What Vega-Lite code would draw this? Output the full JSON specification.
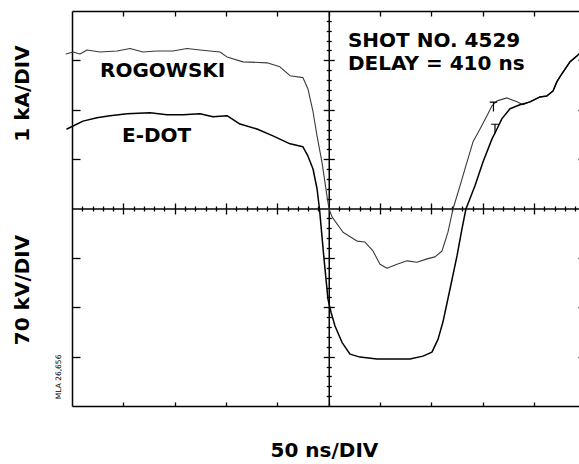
{
  "$schema": "https://vega.github.io/schema/vega-lite/v6.json",
  "width": 507,
  "height": 395,
  "autosize": {"type": "none"},
  "padding": {"left": 72, "top": 11, "right": 0, "bottom": 58},
  "background": "white",
  "data": {"values": [{}]},
  "config": {
    "view": {"stroke": null},
    "axis": {"grid": false, "labels": false, "domainColor": "black", "tickColor": "black", "domainWidth": 1.5, "tickWidth": 1.3},
    "text": {"font": "DejaVu Sans", "fontWeight": "bold", "fontSize": 20, "color": "black"}
  },
  "resolve": {"axis": {"x": "independent", "y": "independent"}},
  "datasets": {
    "traces": [
      {"trace": "ROGOWSKI", "t": -5.8, "v": 3.13},
      {"trace": "ROGOWSKI", "t": 1.0, "v": 3.17},
      {"trace": "ROGOWSKI", "t": 7.8, "v": 3.13},
      {"trace": "ROGOWSKI", "t": 14.6, "v": 3.21},
      {"trace": "ROGOWSKI", "t": 27.3, "v": 3.17},
      {"trace": "ROGOWSKI", "t": 43.8, "v": 3.19},
      {"trace": "ROGOWSKI", "t": 56.5, "v": 3.24},
      {"trace": "ROGOWSKI", "t": 69.1, "v": 3.17},
      {"trace": "ROGOWSKI", "t": 82.8, "v": 3.19},
      {"trace": "ROGOWSKI", "t": 98.3, "v": 3.19},
      {"trace": "ROGOWSKI", "t": 112.0, "v": 3.24},
      {"trace": "ROGOWSKI", "t": 124.6, "v": 3.21},
      {"trace": "ROGOWSKI", "t": 134.4, "v": 3.19},
      {"trace": "ROGOWSKI", "t": 144.1, "v": 3.17},
      {"trace": "ROGOWSKI", "t": 150.9, "v": 3.07},
      {"trace": "ROGOWSKI", "t": 166.5, "v": 2.97},
      {"trace": "ROGOWSKI", "t": 189.9, "v": 2.95},
      {"trace": "ROGOWSKI", "t": 202.5, "v": 2.87},
      {"trace": "ROGOWSKI", "t": 212.3, "v": 2.69},
      {"trace": "ROGOWSKI", "t": 224.9, "v": 2.65},
      {"trace": "ROGOWSKI", "t": 229.8, "v": 2.42},
      {"trace": "ROGOWSKI", "t": 234.7, "v": 1.96},
      {"trace": "ROGOWSKI", "t": 238.6, "v": 1.47},
      {"trace": "ROGOWSKI", "t": 243.4, "v": 0.94},
      {"trace": "ROGOWSKI", "t": 248.3, "v": 0.25},
      {"trace": "ROGOWSKI", "t": 250.3, "v": -0.01},
      {"trace": "ROGOWSKI", "t": 253.2, "v": -0.17},
      {"trace": "ROGOWSKI", "t": 263.9, "v": -0.48},
      {"trace": "ROGOWSKI", "t": 277.5, "v": -0.66},
      {"trace": "ROGOWSKI", "t": 285.3, "v": -0.68},
      {"trace": "ROGOWSKI", "t": 293.1, "v": -0.86},
      {"trace": "ROGOWSKI", "t": 299.9, "v": -1.13},
      {"trace": "ROGOWSKI", "t": 306.7, "v": -1.21},
      {"trace": "ROGOWSKI", "t": 316.5, "v": -1.13},
      {"trace": "ROGOWSKI", "t": 326.2, "v": -1.06},
      {"trace": "ROGOWSKI", "t": 335.9, "v": -1.09},
      {"trace": "ROGOWSKI", "t": 345.7, "v": -1.02},
      {"trace": "ROGOWSKI", "t": 353.5, "v": -0.98},
      {"trace": "ROGOWSKI", "t": 360.3, "v": -0.86},
      {"trace": "ROGOWSKI", "t": 366.1, "v": -0.48},
      {"trace": "ROGOWSKI", "t": 371.0, "v": -0.01},
      {"trace": "ROGOWSKI", "t": 377.8, "v": 0.46},
      {"trace": "ROGOWSKI", "t": 384.6, "v": 0.94},
      {"trace": "ROGOWSKI", "t": 390.5, "v": 1.35},
      {"trace": "ROGOWSKI", "t": 397.3, "v": 1.61},
      {"trace": "ROGOWSKI", "t": 404.1, "v": 1.88},
      {"trace": "ROGOWSKI", "t": 409.0, "v": 2.08},
      {"trace": "ROGOWSKI", "t": 413.8, "v": 2.18},
      {"trace": "ROGOWSKI", "t": 423.6, "v": 2.24},
      {"trace": "ROGOWSKI", "t": 433.3, "v": 2.16},
      {"trace": "ROGOWSKI", "t": 439.1, "v": 2.10},
      {"trace": "ROGOWSKI", "t": 446.0, "v": 2.16},
      {"trace": "ROGOWSKI", "t": 455.7, "v": 2.26},
      {"trace": "ROGOWSKI", "t": 462.5, "v": 2.28},
      {"trace": "ROGOWSKI", "t": 468.4, "v": 2.38},
      {"trace": "ROGOWSKI", "t": 472.2, "v": 2.57},
      {"trace": "ROGOWSKI", "t": 477.1, "v": 2.73},
      {"trace": "ROGOWSKI", "t": 484.9, "v": 2.97},
      {"trace": "ROGOWSKI", "t": 491.7, "v": 3.09},
      {"trace": "ROGOWSKI", "t": 493.7, "v": 3.13},
      {"trace": "E-DOT", "t": -4.9, "v": 1.61},
      {"trace": "E-DOT", "t": 1.0, "v": 1.67},
      {"trace": "E-DOT", "t": 10.7, "v": 1.77},
      {"trace": "E-DOT", "t": 24.3, "v": 1.84},
      {"trace": "E-DOT", "t": 37.0, "v": 1.88},
      {"trace": "E-DOT", "t": 53.6, "v": 1.92},
      {"trace": "E-DOT", "t": 75.9, "v": 1.94},
      {"trace": "E-DOT", "t": 92.5, "v": 1.90},
      {"trace": "E-DOT", "t": 108.1, "v": 1.90},
      {"trace": "E-DOT", "t": 124.6, "v": 1.92},
      {"trace": "E-DOT", "t": 137.3, "v": 1.86},
      {"trace": "E-DOT", "t": 150.9, "v": 1.88},
      {"trace": "E-DOT", "t": 163.6, "v": 1.71},
      {"trace": "E-DOT", "t": 180.1, "v": 1.61},
      {"trace": "E-DOT", "t": 195.7, "v": 1.47},
      {"trace": "E-DOT", "t": 212.3, "v": 1.31},
      {"trace": "E-DOT", "t": 224.9, "v": 1.25},
      {"trace": "E-DOT", "t": 229.8, "v": 1.06},
      {"trace": "E-DOT", "t": 234.7, "v": 0.80},
      {"trace": "E-DOT", "t": 238.6, "v": 0.40},
      {"trace": "E-DOT", "t": 241.0, "v": -0.01},
      {"trace": "E-DOT", "t": 245.4, "v": -1.02},
      {"trace": "E-DOT", "t": 249.3, "v": -1.84},
      {"trace": "E-DOT", "t": 252.2, "v": -2.10},
      {"trace": "E-DOT", "t": 256.1, "v": -2.38},
      {"trace": "E-DOT", "t": 262.9, "v": -2.71},
      {"trace": "E-DOT", "t": 270.7, "v": -2.95},
      {"trace": "E-DOT", "t": 280.4, "v": -3.01},
      {"trace": "E-DOT", "t": 297.0, "v": -3.05},
      {"trace": "E-DOT", "t": 329.1, "v": -3.05},
      {"trace": "E-DOT", "t": 341.8, "v": -2.99},
      {"trace": "E-DOT", "t": 350.5, "v": -2.91},
      {"trace": "E-DOT", "t": 356.4, "v": -2.65},
      {"trace": "E-DOT", "t": 361.2, "v": -2.30},
      {"trace": "E-DOT", "t": 368.1, "v": -1.63},
      {"trace": "E-DOT", "t": 374.9, "v": -0.96},
      {"trace": "E-DOT", "t": 379.7, "v": -0.42},
      {"trace": "E-DOT", "t": 383.6, "v": -0.01},
      {"trace": "E-DOT", "t": 392.4, "v": 0.46},
      {"trace": "E-DOT", "t": 400.2, "v": 0.94},
      {"trace": "E-DOT", "t": 409.0, "v": 1.41},
      {"trace": "E-DOT", "t": 413.8, "v": 1.61},
      {"trace": "E-DOT", "t": 418.7, "v": 1.82},
      {"trace": "E-DOT", "t": 426.5, "v": 2.02},
      {"trace": "E-DOT", "t": 436.2, "v": 2.10},
      {"trace": "E-DOT", "t": 446.0, "v": 2.16},
      {"trace": "E-DOT", "t": 455.7, "v": 2.26},
      {"trace": "E-DOT", "t": 462.5, "v": 2.28},
      {"trace": "E-DOT", "t": 468.4, "v": 2.38},
      {"trace": "E-DOT", "t": 472.2, "v": 2.57},
      {"trace": "E-DOT", "t": 477.1, "v": 2.73},
      {"trace": "E-DOT", "t": 484.9, "v": 2.97},
      {"trace": "E-DOT", "t": 491.7, "v": 3.09},
      {"trace": "E-DOT", "t": 493.7, "v": 3.13}
    ],
    "markers": [
      {"trace": "ROGOWSKI", "t": 410.4, "v": 2.06},
      {"trace": "E-DOT", "t": 411.9, "v": 1.61}
    ]
  },
  "layer": [
    {
      "data": {"name": "traces"},
      "mark": {"type": "line", "strokeJoin": "round", "strokeCap": "round"},
      "encoding": {
        "x": {"field": "t", "type": "quantitative", "scale": {"domain": [0, 493.7], "nice": false, "zero": false},
              "axis": {"orient": "bottom", "title": null, "values": [50, 100, 150, 200, 250, 300, 350, 400, 450], "tickSize": -4}},
        "y": {"field": "v", "type": "quantitative", "scale": {"domain": [-4, 4], "nice": false, "zero": false},
              "axis": {"orient": "left", "title": null, "values": [-3, -2, -1, 1, 2, 3], "tickSize": -8}},
        "color": {"field": "trace", "type": "nominal", "scale": {"domain": ["ROGOWSKI", "E-DOT"], "range": ["#3a3a3a", "#000000"]}, "legend": null},
        "strokeWidth": {"field": "trace", "type": "nominal", "scale": {"domain": ["ROGOWSKI", "E-DOT"], "range": [1.1, 1.5]}, "legend": null}
      }
    },
    {
      "data": {"name": "markers"},
      "mark": {"type": "point", "shape": "M-0.8,-1H0.8M0,-1V1", "filled": false, "size": 90, "strokeWidth": 1.2, "color": "black", "opacity": 1},
      "encoding": {
        "x": {"field": "t", "type": "quantitative",
              "axis": {"orient": "top", "title": null, "values": [50, 100, 150, 200, 250, 300, 350, 400, 450], "tickSize": -5}},
        "y": {"field": "v", "type": "quantitative",
              "axis": {"orient": "right", "title": null, "offset": 6, "domain": false, "values": [-3, -2, -1, 1, 2, 3], "tickSize": -7}}
      }
    },
    {
      "mark": {"type": "text", "align": "left", "baseline": "alphabetic", "text": "ROGOWSKI"},
      "encoding": {
        "x": {"datum": 27.3, "type": "quantitative",
              "axis": {"orient": "bottom", "title": null, "offset": -197.5, "values": [50, 100, 150, 200, 300, 350, 400, 450], "tickSize": 5.5}},
        "y": {"datum": 2.66, "type": "quantitative",
              "axis": {"orient": "left", "title": null, "offset": -256.75, "values": [-3, -2, -1, 1, 2, 3], "tickSize": 5.5}}
      }
    },
    {
      "mark": {"type": "text", "align": "left", "baseline": "alphabetic", "text": "E-DOT"},
      "encoding": {
        "x": {"datum": 48.7, "type": "quantitative",
              "axis": {"orient": "top", "title": null, "offset": -197.5, "domain": false, "values": [50, 100, 150, 200, 300, 350, 400, 450], "tickSize": 5.5}},
        "y": {"datum": 1.35, "type": "quantitative",
              "axis": {"orient": "right", "title": null, "offset": -250.25, "domain": false, "values": [-3, -2, -1, 1, 2, 3], "tickSize": 5.5}}
      }
    },
    {
      "mark": {"type": "text", "align": "left", "baseline": "alphabetic", "text": "SHOT NO. 4529"},
      "encoding": {
        "x": {"datum": 268.7, "type": "quantitative",
              "axis": {"orient": "bottom", "title": null, "offset": -197.5, "domain": false, "tickSize": 2.5,
                       "values": [10, 20, 30, 40, 60, 70, 80, 90, 110, 120, 130, 140, 160, 170, 180, 190, 210, 220, 230, 240, 260, 270, 280, 290, 310, 320, 330, 340, 360, 370, 380, 390, 410, 420, 430, 440, 460, 470, 480, 490]}},
        "y": {"datum": 3.27, "type": "quantitative",
              "axis": {"orient": "left", "title": null, "offset": -256.75, "domain": false, "tickSize": 2.5,
                       "values": [-3.8, -3.6, -3.4, -3.2, -2.8, -2.6, -2.4, -2.2, -1.8, -1.6, -1.4, -1.2, -0.8, -0.6, -0.4, -0.2, 0.2, 0.4, 0.6, 0.8, 1.2, 1.4, 1.6, 1.8, 2.2, 2.4, 2.6, 2.8, 3.2, 3.4, 3.6, 3.8]}}
      }
    },
    {
      "mark": {"type": "text", "align": "left", "baseline": "alphabetic", "text": "DELAY = 410 ns"},
      "encoding": {
        "x": {"datum": 268.7, "type": "quantitative",
              "axis": {"orient": "top", "title": null, "offset": -197.5, "domain": false, "tickSize": 2.5,
                       "values": [10, 20, 30, 40, 60, 70, 80, 90, 110, 120, 130, 140, 160, 170, 180, 190, 210, 220, 230, 240, 260, 270, 280, 290, 310, 320, 330, 340, 360, 370, 380, 390, 410, 420, 430, 440, 460, 470, 480, 490]}},
        "y": {"datum": 2.80, "type": "quantitative",
              "axis": {"orient": "right", "title": null, "offset": -250.25, "domain": false, "tickSize": 2.5,
                       "values": [-3.8, -3.6, -3.4, -3.2, -2.8, -2.6, -2.4, -2.2, -1.8, -1.6, -1.4, -1.2, -0.8, -0.6, -0.4, -0.2, 0.2, 0.4, 0.6, 0.8, 1.2, 1.4, 1.6, 1.8, 2.2, 2.4, 2.6, 2.8, 3.2, 3.4, 3.6, 3.8]}}
      }
    },
    {
      "mark": {"type": "text", "align": "center", "baseline": "middle", "angle": 270, "text": "1  kA/DIV"},
      "encoding": {
        "x": {"datum": -47.7, "type": "quantitative", "axis": null},
        "y": {"datum": 2.33, "type": "quantitative", "axis": null}
      }
    },
    {
      "mark": {"type": "text", "align": "center", "baseline": "middle", "angle": 270, "text": "70 kV/DIV"},
      "encoding": {
        "x": {"datum": -47.7, "type": "quantitative", "axis": null},
        "y": {"datum": -1.65, "type": "quantitative", "axis": null}
      }
    },
    {
      "mark": {"type": "text", "align": "center", "baseline": "alphabetic", "text": "50 ns/DIV"},
      "encoding": {
        "x": {"datum": 245.8, "type": "quantitative", "axis": null},
        "y": {"datum": -5.03, "type": "quantitative", "axis": null}
      }
    },
    {
      "mark": {"type": "text", "align": "center", "baseline": "middle", "angle": 270, "text": "MLA 26,656", "fontSize": 7.5, "fontWeight": "normal"},
      "encoding": {
        "x": {"datum": -12.7, "type": "quantitative", "axis": null},
        "y": {"datum": -3.41, "type": "quantitative", "axis": null}
      }
    }
  ]
}
